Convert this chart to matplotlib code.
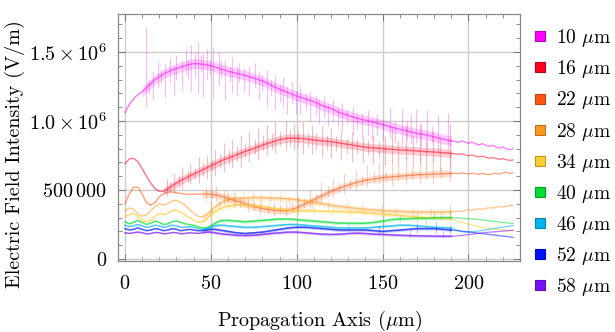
import matplotlib
matplotlib.use('Agg')
import matplotlib.pyplot as plt
from matplotlib.lines import Line2D
import numpy as np

plt.rcParams['font.family'] = 'cmr10'
plt.rcParams['mathtext.fontset'] = 'cm'
plt.rcParams['axes.formatter.use_mathtext'] = True

# propagation axis positions (um), noisy part and smooth tail
x_main = [0, 2.5, 5, 7.5, 10, 12.5, 15, 17.5, 20, 22.5, 25, 27.5, 30, 32.5, 35, 37.5,
          40, 42.5, 45, 47.5, 50, 52.5, 55, 57.5, 60, 65, 70, 75, 80, 85, 90, 95, 100,
          105, 110, 115, 120, 125, 130, 135, 140, 145, 150, 155, 160, 165, 170, 175,
          180, 185, 190]
x_tail = [192, 194, 196, 198, 200, 202, 204, 206, 208, 210, 212, 214, 216, 218, 220,
          222, 224, 226]

labels = ['10 $\\mu$m', '16 $\\mu$m', '22 $\\mu$m', '28 $\\mu$m', '34 $\\mu$m',
          '40 $\\mu$m', '46 $\\mu$m', '52 $\\mu$m', '58 $\\mu$m']

# field intensity, units of 1e6 V/m
e10 = [1.06, 1.12, 1.16, 1.19, 1.21, 1.24, 1.27, 1.30, 1.32, 1.34, 1.355, 1.37, 1.38, 1.39,
       1.40, 1.41, 1.415, 1.415, 1.41, 1.405, 1.40, 1.39, 1.38, 1.37, 1.36, 1.345, 1.33,
       1.31, 1.29, 1.26, 1.23, 1.205, 1.18, 1.16, 1.14, 1.11, 1.09, 1.06, 1.04, 1.02,
       1.005, 0.99, 0.975, 0.955, 0.94, 0.925, 0.91, 0.90, 0.885, 0.87, 0.855]
e16 = [0.69, 0.725, 0.73, 0.705, 0.655, 0.60, 0.55, 0.51, 0.49, 0.49, 0.51, 0.53, 0.55,
       0.57, 0.585, 0.60, 0.615, 0.63, 0.645, 0.66, 0.675, 0.69, 0.705, 0.72, 0.73, 0.755,
       0.78, 0.80, 0.825, 0.845, 0.865, 0.875, 0.875, 0.87, 0.862, 0.855, 0.85, 0.84, 0.83,
       0.82, 0.81, 0.805, 0.80, 0.795, 0.79, 0.787, 0.783, 0.778, 0.775, 0.77, 0.765]
e22 = [0.40, 0.47, 0.52, 0.52, 0.47, 0.41, 0.39, 0.41, 0.45, 0.475, 0.485, 0.485, 0.48,
       0.475, 0.47, 0.47, 0.47, 0.47, 0.47, 0.47, 0.47, 0.465, 0.46, 0.45, 0.44, 0.42, 0.40,
       0.38, 0.365, 0.355, 0.35, 0.35, 0.37, 0.40, 0.43, 0.46, 0.49, 0.515, 0.535, 0.555,
       0.57, 0.58, 0.59, 0.595, 0.60, 0.605, 0.61, 0.612, 0.615, 0.618, 0.62]
e28 = [0.35, 0.37, 0.36, 0.33, 0.31, 0.32, 0.35, 0.38, 0.40, 0.39, 0.40, 0.42, 0.425, 0.41,
       0.39, 0.36, 0.33, 0.31, 0.305, 0.32, 0.35, 0.38, 0.40, 0.42, 0.43, 0.44, 0.44,
       0.445, 0.445, 0.44, 0.44, 0.435, 0.43, 0.42, 0.41, 0.40, 0.39, 0.38, 0.375, 0.365,
       0.36, 0.355, 0.35, 0.347, 0.345, 0.342, 0.34, 0.34, 0.34, 0.34, 0.34]
e34 = [0.31, 0.32, 0.33, 0.31, 0.28, 0.27, 0.28, 0.31, 0.33, 0.32, 0.33, 0.35, 0.355, 0.34,
       0.32, 0.30, 0.28, 0.265, 0.27, 0.29, 0.32, 0.345, 0.36, 0.375, 0.385, 0.39, 0.39,
       0.385, 0.38, 0.37, 0.36, 0.355, 0.35, 0.35, 0.35, 0.345, 0.345, 0.345, 0.34, 0.34,
       0.335, 0.33, 0.325, 0.32, 0.315, 0.31, 0.305, 0.30, 0.30, 0.295, 0.29]
e40 = [0.27, 0.255, 0.265, 0.28, 0.265, 0.25, 0.26, 0.275, 0.265, 0.25, 0.255, 0.27, 0.275,
       0.265, 0.255, 0.25, 0.245, 0.235, 0.225, 0.225, 0.24, 0.26, 0.275, 0.28, 0.28,
       0.275, 0.27, 0.275, 0.28, 0.285, 0.29, 0.29, 0.285, 0.28, 0.275, 0.27, 0.265, 0.26,
       0.26, 0.258, 0.26, 0.265, 0.275, 0.285, 0.29, 0.292, 0.295, 0.295, 0.298, 0.30, 0.30]
e46 = [0.245, 0.235, 0.24, 0.25, 0.24, 0.23, 0.235, 0.245, 0.24, 0.23, 0.235, 0.245, 0.24,
       0.23, 0.23, 0.235, 0.23, 0.22, 0.215, 0.22, 0.23, 0.24, 0.245, 0.245, 0.24, 0.235,
       0.23, 0.23, 0.235, 0.24, 0.245, 0.25, 0.25, 0.245, 0.24, 0.235, 0.23, 0.225, 0.225,
       0.225, 0.225, 0.23, 0.235, 0.24, 0.245, 0.245, 0.24, 0.235, 0.23, 0.228, 0.225]
e52 = [0.22, 0.21, 0.215, 0.225, 0.215, 0.205, 0.21, 0.22, 0.215, 0.205, 0.21, 0.22, 0.215,
       0.205, 0.21, 0.215, 0.21, 0.205, 0.205, 0.21, 0.215, 0.215, 0.21, 0.205, 0.20, 0.19,
       0.185, 0.19, 0.195, 0.205, 0.215, 0.225, 0.23, 0.23, 0.225, 0.22, 0.215, 0.21, 0.21,
       0.21, 0.21, 0.205, 0.20, 0.205, 0.21, 0.215, 0.22, 0.22, 0.22, 0.215, 0.21]
e58 = [0.19, 0.185, 0.19, 0.195, 0.19, 0.182, 0.185, 0.192, 0.19, 0.183, 0.185, 0.192, 0.19,
       0.183, 0.185, 0.19, 0.188, 0.185, 0.19, 0.195, 0.195, 0.19, 0.185, 0.18, 0.178,
       0.172, 0.17, 0.172, 0.178, 0.185, 0.19, 0.195, 0.195, 0.19, 0.185, 0.18, 0.178,
       0.18, 0.185, 0.188, 0.185, 0.18, 0.178, 0.175, 0.172, 0.17, 0.168, 0.167, 0.166,
       0.165, 0.165]

t10 = [0.852, 0.845, 0.855, 0.848, 0.838, 0.846, 0.835, 0.826, 0.836, 0.825, 0.815, 0.824,
       0.812, 0.802, 0.812, 0.80, 0.79, 0.80]
t16 = [0.762, 0.758, 0.762, 0.755, 0.748, 0.753, 0.745, 0.74, 0.745, 0.737, 0.73, 0.735,
       0.728, 0.722, 0.727, 0.72, 0.714, 0.718]
t22 = [0.622, 0.618, 0.625, 0.62, 0.615, 0.622, 0.618, 0.612, 0.62, 0.616, 0.61, 0.618,
       0.622, 0.615, 0.624, 0.628, 0.62, 0.625]
t28 = [0.345, 0.348, 0.344, 0.35, 0.356, 0.352, 0.358, 0.364, 0.36, 0.366, 0.372, 0.368,
       0.374, 0.38, 0.376, 0.382, 0.39, 0.386]
t34 = [0.28, 0.272, 0.265, 0.258, 0.252, 0.246, 0.24, 0.235, 0.23, 0.226, 0.222, 0.218,
       0.215, 0.212, 0.21, 0.208, 0.206, 0.205]
t40 = [0.298, 0.297, 0.296, 0.294, 0.292, 0.29, 0.288, 0.286, 0.283, 0.28, 0.277, 0.274,
       0.271, 0.268, 0.265, 0.262, 0.26, 0.258]
t46 = [0.215, 0.205, 0.198, 0.195, 0.196, 0.198, 0.2, 0.203, 0.207, 0.211, 0.215, 0.219,
       0.223, 0.227, 0.231, 0.235, 0.239, 0.243]
t52 = [0.208, 0.205, 0.202, 0.199, 0.196, 0.193, 0.19, 0.187, 0.184, 0.181, 0.178, 0.175,
       0.172, 0.169, 0.166, 0.163, 0.16, 0.157]
t58 = [0.166, 0.168, 0.171, 0.174, 0.177, 0.18, 0.183, 0.186, 0.189, 0.192, 0.194, 0.196,
       0.198, 0.2, 0.202, 0.204, 0.206, 0.208]

# where the noisy band starts (um) and its half width (1e6 V/m)
noise_start = [8, 22, 45, 45, 45, 45, 45, 45, 45]
noise_amp = [0.035, 0.03, 0.025, 0.018, 0.014, 0.012, 0.01, 0.01, 0.01]

# spikes: (x, low, high)
s10 = [(12.5, 1.10, 1.68), (14, 1.20, 1.30), (16.5, 1.16, 1.36), (19.5, 1.24, 1.43),
       (21, 1.28, 1.37), (23.5, 1.17, 1.42), (26.5, 1.28, 1.46), (28.5, 1.18, 1.40),
       (30, 1.30, 1.48), (33.5, 1.22, 1.44), (35.5, 1.33, 1.52), (37, 1.30, 1.45),
       (38.5, 1.22, 1.55), (41, 1.32, 1.50), (42.5, 1.20, 1.58), (44, 1.36, 1.48),
       (45.5, 1.17, 1.49), (48, 1.30, 1.52), (49.5, 1.34, 1.45), (51.5, 1.16, 1.53),
       (54.5, 1.25, 1.50), (56, 1.32, 1.44), (58.5, 1.15, 1.44), (61, 1.28, 1.40),
       (62.5, 1.20, 1.46), (65, 1.18, 1.40), (66.5, 1.28, 1.42), (69.5, 1.22, 1.38),
       (72, 1.18, 1.40), (75.5, 1.24, 1.42), (78, 1.15, 1.36), (80, 1.22, 1.33),
       (82.5, 1.10, 1.37), (85, 1.18, 1.30), (87.5, 1.08, 1.33), (90, 1.14, 1.27),
       (92, 1.10, 1.32), (94.5, 1.05, 1.25), (97, 1.12, 1.28), (99.5, 1.05, 1.22),
       (102, 1.04, 1.25), (105.5, 1.08, 1.20), (108, 1.00, 1.22), (111, 1.04, 1.19),
       (113, 0.98, 1.16), (116, 1.02, 1.18), (118.5, 0.96, 1.12), (121, 0.99, 1.16),
       (124, 0.96, 1.10), (126.5, 0.93, 1.13), (129, 0.98, 1.08), (132.5, 0.90, 1.11),
       (135, 0.94, 1.05), (138, 0.88, 1.06), (141.5, 0.90, 1.08), (144, 0.86, 1.02),
       (147, 0.90, 1.05), (150.5, 0.86, 1.01), (154.5, 0.88, 1.10), (157, 0.84, 0.99),
       (161.5, 0.82, 1.09), (164, 0.87, 1.00), (166.5, 0.83, 1.05), (169.5, 0.84, 1.09),
       (172.5, 0.82, 0.98), (176, 0.80, 1.08), (179, 0.84, 0.96), (182.5, 0.78, 1.04),
       (188, 0.80, 1.06)]
s16 = [(24.5, 0.46, 0.58), (26.5, 0.50, 0.56), (28.5, 0.48, 0.62), (31.5, 0.52, 0.61),
       (33.5, 0.51, 0.67), (36.5, 0.56, 0.64), (38, 0.54, 0.69), (41, 0.58, 0.67),
       (43, 0.55, 0.74), (45.5, 0.60, 0.70), (47.5, 0.58, 0.75), (50.5, 0.64, 0.72),
       (52.5, 0.60, 0.80), (55.5, 0.66, 0.76), (57.5, 0.63, 0.84), (60.5, 0.68, 0.79),
       (62.5, 0.66, 0.86), (65, 0.71, 0.82), (67.5, 0.67, 0.90), (70, 0.74, 0.84),
       (72.5, 0.70, 0.93), (75.5, 0.76, 0.87), (77.5, 0.72, 0.95), (80.5, 0.79, 0.90),
       (82.5, 0.75, 0.97), (85.5, 0.80, 0.91), (87.5, 0.77, 0.99), (90.5, 0.82, 0.93),
       (93.5, 0.78, 1.00), (96, 0.82, 0.94), (98.5, 0.79, 0.98), (101, 0.81, 0.93),
       (103.5, 0.76, 0.99), (106.5, 0.81, 0.92), (109, 0.76, 0.97), (111.5, 0.80, 0.91),
       (114.5, 0.74, 0.96), (117.5, 0.79, 0.90), (120, 0.73, 0.95), (123, 0.78, 0.89),
       (126, 0.72, 0.93), (129, 0.77, 0.88), (132, 0.70, 0.92), (135, 0.76, 0.87),
       (138.5, 0.70, 0.89), (141.5, 0.75, 0.86), (144.5, 0.69, 0.90), (148, 0.74, 0.85),
       (151.5, 0.68, 0.89), (155.5, 0.70, 0.95), (159, 0.66, 0.86), (163.5, 0.72, 0.96),
       (167.5, 0.66, 0.90), (171.5, 0.70, 0.98), (175, 0.65, 0.86), (179.5, 0.70, 0.93),
       (183.5, 0.64, 0.88), (189, 0.66, 0.98)]
s22 = [(47, 0.42, 0.52), (50.5, 0.44, 0.50), (53, 0.41, 0.53), (57.5, 0.40, 0.50),
       (60, 0.41, 0.48), (63.5, 0.37, 0.48), (67, 0.38, 0.45), (71.5, 0.34, 0.44),
       (75, 0.35, 0.42), (78.5, 0.32, 0.43), (83, 0.33, 0.40), (86.5, 0.31, 0.41),
       (90, 0.33, 0.39), (93.5, 0.31, 0.42), (97, 0.34, 0.41), (100.5, 0.33, 0.45),
       (104, 0.37, 0.44), (107.5, 0.36, 0.50), (111, 0.41, 0.48), (114, 0.40, 0.56),
       (118, 0.45, 0.53), (121, 0.44, 0.59), (124.5, 0.48, 0.56), (127.5, 0.47, 0.62),
       (131, 0.51, 0.58), (134.5, 0.50, 0.65), (138, 0.53, 0.61), (141, 0.52, 0.68),
       (145, 0.55, 0.63), (148, 0.54, 0.70), (152, 0.56, 0.64), (155.5, 0.53, 0.72),
       (159, 0.57, 0.65), (163.5, 0.54, 0.74), (167, 0.58, 0.66), (171.5, 0.55, 0.75),
       (175, 0.58, 0.66), (179.5, 0.55, 0.73), (184, 0.58, 0.67), (189, 0.56, 0.76)]
s28 = [(50, 0.31, 0.42), (55, 0.36, 0.47), (59.5, 0.39, 0.48), (64, 0.40, 0.49),
       (69, 0.41, 0.48), (74.5, 0.40, 0.49), (79, 0.41, 0.47), (84.5, 0.39, 0.48),
       (90, 0.40, 0.47), (95.5, 0.37, 0.46), (101, 0.38, 0.45), (109, 0.36, 0.44),
       (118, 0.35, 0.43), (129, 0.33, 0.41), (138, 0.33, 0.40), (149, 0.31, 0.39),
       (158, 0.32, 0.37), (168, 0.30, 0.38), (178, 0.31, 0.38), (189, 0.30, 0.40)]
s34 = [(61, 0.35, 0.41), (70, 0.36, 0.42), (79, 0.35, 0.41), (91, 0.33, 0.40),
       (101, 0.32, 0.38), (110, 0.32, 0.39), (121, 0.32, 0.38), (131, 0.31, 0.38),
       (139, 0.31, 0.37), (151, 0.30, 0.36), (162, 0.29, 0.35), (171, 0.28, 0.34),
       (181, 0.28, 0.34)]
s40 = [(150, 0.25, 0.31), (160, 0.27, 0.32), (170, 0.27, 0.34), (180, 0.28, 0.34),
       (184, 0.28, 0.35), (189, 0.28, 0.36)]
s46 = [(130, 0.20, 0.26), (150, 0.21, 0.27), (175, 0.21, 0.28)]
s52 = [(148, 0.18, 0.25), (170, 0.19, 0.26), (181, 0.19, 0.27), (189, 0.19, 0.25)]
s58 = [(166, 0.15, 0.21), (185, 0.15, 0.20)]

colors = ['#FF00FF', '#FF0022', '#FF5511', '#FF9922', '#FFCC33', '#00DD33', '#00B4F0',
          '#0011FF', '#7711FF']
edge_colors = ['#C000C0', '#C00018', '#C0400C', '#C07018', '#C09820', '#00A020',
               '#0088B8', '#000CC0', '#5A0CC0']

mains = [e10, e16, e22, e28, e34, e40, e46, e52, e58]
tails = [t10, t16, t22, t28, t34, t40, t46, t52, t58]
spikes = [s10, s16, s22, s28, s34, s40, s46, s52, s58]

fig = plt.figure(figsize=(6.15, 3.32), dpi=100)
ax = fig.add_axes([0.192, 0.214, 0.6535, 0.744])

xm = np.array(x_main)
for i in range(len(mains)):
    c = colors[i]
    base = np.array(mains[i]) * 1e6
    tail = np.array(tails[i]) * 1e6
    m = xm >= noise_start[i]
    amp = noise_amp[i] * 1e6
    ax.fill_between(xm[m], base[m] - amp, base[m] + amp, color=c, alpha=0.2, lw=0)
    sx = [s[0] for s in spikes[i]]
    lo = [s[1] * 1e6 for s in spikes[i]]
    hi = [s[2] * 1e6 for s in spikes[i]]
    ax.vlines(sx, lo, hi, color=c, alpha=0.28, lw=0.8)
    lw = 1.0 if i < 4 else 1.1
    al = 0.55 if i < 4 else 0.7
    ax.plot(x_main, base, color=c, lw=lw, alpha=al)
    ax.plot([x_main[-1]] + x_tail, np.concatenate([base[-1:], tail]), color=c, lw=0.9,
            alpha=0.55)

ax.set_xlim(-4, 230)
ax.set_ylim(-14000, 1.775e6)

fs = 14.5
ax.set_xticks([0, 50, 100, 150, 200])
ax.set_xticks(np.arange(0, 230, 10), minor=True)
ax.set_yticks([0, 5e5, 1e6, 1.5e6])
ax.set_yticklabels([r'$0$', r'$500\,000$', r'$1.0\times10^{6}$', r'$1.5\times10^{6}$'])
ax.set_yticks(np.arange(0, 1.75e6, 1e5), minor=True)
ax.tick_params(which='both', direction='in', top=True, right=True, color='#777777',
               labelsize=fs)
ax.tick_params(which='major', length=5, width=0.7)
ax.tick_params(which='minor', length=3, width=0.6)
ax.tick_params(axis='y', pad=8)
ax.tick_params(axis='x', pad=10)
ax.grid(True, which='major', color='#CCCCCC', lw=1.0)
ax.set_axisbelow(True)
for sp in ax.spines.values():
    sp.set_color('#888888')
    sp.set_linewidth(0.9)

ax.set_xlabel('Propagation Axis ($\\mu$m)', fontsize=fs)
ax.set_ylabel('Electric Field Intensity (V/m)', fontsize=fs)
ax.xaxis.set_label_coords(0.5, -0.195)
ax.yaxis.set_label_coords(-0.231, 0.433)

handles = [Line2D([], [], ls='', marker='s', markersize=7, markerfacecolor=colors[i],
                  markeredgecolor=edge_colors[i], markeredgewidth=0.8)
           for i in range(len(labels))]
fig.legend(handles, labels, loc='center left', bbox_to_anchor=(0.85, 0.51),
           frameon=False, fontsize=14, handlelength=0.8, handletextpad=0.4,
           labelspacing=0.47, borderpad=0)

fig.savefig('out.png', dpi=100)
